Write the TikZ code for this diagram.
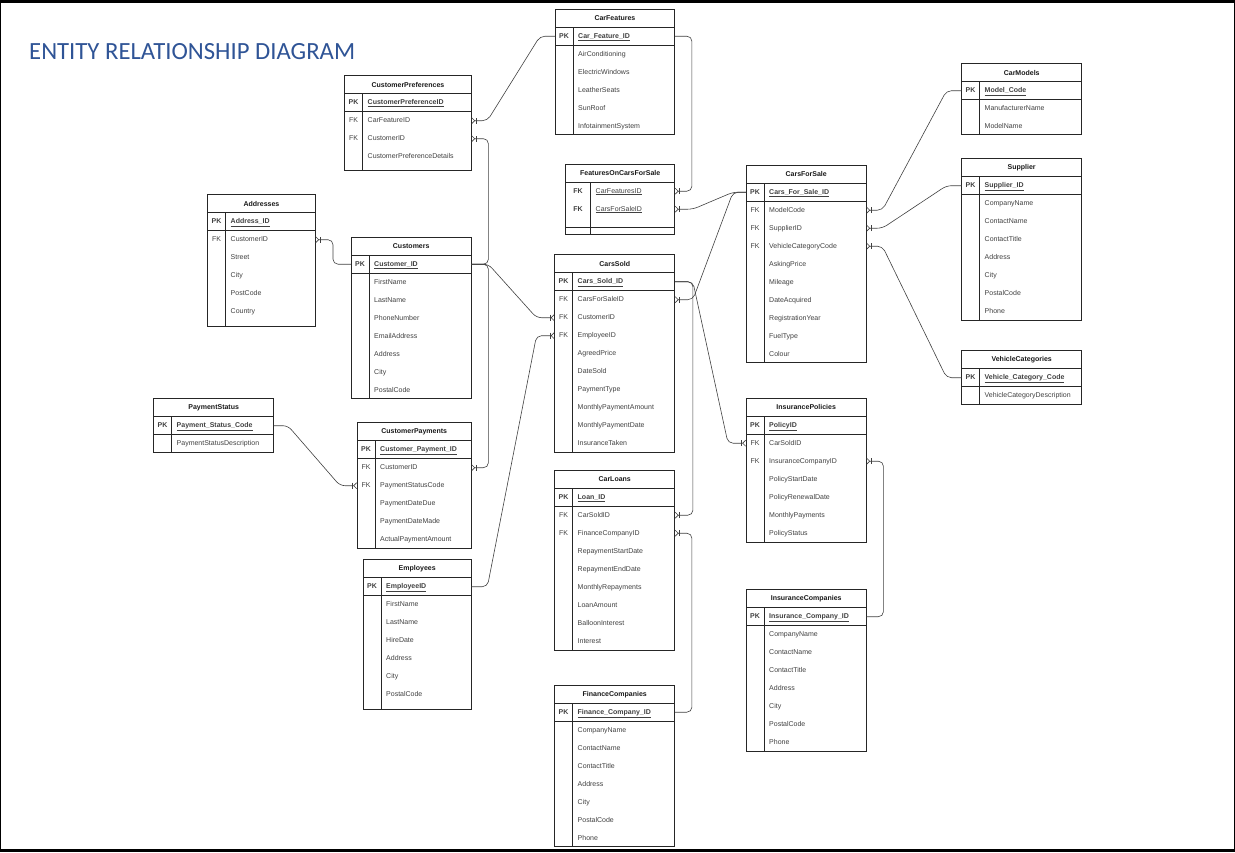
\documentclass[tikz,border=0pt]{standalone}
\usepackage{fontspec}
\setmainfont{Liberation Sans}
\newfontfamily\titlefont{Carlito}
\usetikzlibrary{arrows.meta}
\definecolor{titleblue}{RGB}{47,84,150}
\definecolor{fieldgray}{RGB}{64,64,64}
\newcommand{\erkeyw}{18}
\newcommand{\erkeys}{1}
\newcommand{\erpad}{0}
\newcommand{\PK}{\textbf{PK}}
\newcommand{\pkname}[1]{\textbf{\underline{#1}}}
\tikzset{
  erbox/.style={draw=black!85, line width=0.8pt},
  erhead/.style={anchor=north west, minimum height=18pt, inner sep=0pt,
                 font=\fontsize{7}{8}\selectfont\bfseries, text=black!90},
  errow/.style={anchor=north west, minimum height=18pt, inner sep=0pt},
  erkey/.style={anchor=center, xshift=\erkeyw/2, inner sep=0pt,
                text height=5.2pt, text depth=1.6pt,
                font=\fontsize{7}{8}\selectfont, text=fieldgray},
  erfield/.style={anchor=west, xshift=\erkeyw+5, inner sep=0pt,
                  text height=5.2pt, text depth=1.6pt,
                  font=\fontsize{7}{8}\selectfont, text=fieldgray},
  rel/.style={draw=black!75, line width=0.6pt, rounded corners=5pt,
              -{Bar[width=6pt, line width=0.6pt, sep=0.5pt] Straight Barb[reversed, length=3pt, width=6pt, line width=0.6pt]}},
}
% one table: name, x, y (top), width, height, title, key/field rows
\newcommand{\ertable}[7]{%
  \node[erhead, minimum width=#4] (#1) at (#2,#3) {#6};
  \foreach \k/\f [count=\i] in {#7}
    \node[errow, minimum width=#4, label={[erkey]west:\k}, label={[erfield]west:\f}]
      (#1-\i) at (#2,{#3+18*\i+(\i>\erkeys)*\erpad}) {};
  \draw[erbox] (#2,#3) rectangle ++(#4,#5);
  \draw[erbox] (#2,#3+18) -- ++(#4,0);
  \draw[erbox] (#2,{#3+18+18*\erkeys+\erpad}) -- ++(#4,0);
  \draw[erbox] (#2+\erkeyw,#3+18) -- (#2+\erkeyw,#3+#5);
}

\begin{document}
\begin{tikzpicture}[x=1pt, y=-1pt]
\useasboundingbox (0,0) rectangle (1235,852);

% --- frame and title ---
\fill[black] (0,0) rectangle (1235,3);
\fill[black] (0,849) rectangle (1235,852);
\fill[black] (0,0) rectangle (1.2,852);
\fill[black] (1233.5,0) rectangle (1235,852);
\node[anchor=west, inner sep=0pt, text=titleblue, font=\titlefont\fontsize{24.7}{30}\selectfont]
  (title) at (29,52) {ENTITY RELATIONSHIP DIAGRAM};

% --- left column ---
\ertable{custpref}{344.5}{75.5}{126.5}{95}{CustomerPreferences}
  {\PK/\pkname{CustomerPreferenceID}, FK/CarFeatureID, FK/CustomerID, /CustomerPreferenceDetails}
\ertable{addr}{207.5}{194.5}{107.5}{131.5}{Addresses}
  {\PK/\pkname{Address\_ID}, FK/CustomerID, /Street, /City, /PostCode, /Country}
\ertable{cust}{351}{237}{120}{161.5}{Customers}
  {\PK/\pkname{Customer\_ID}, /FirstName, /LastName, /PhoneNumber, /EmailAddress, /Address, /City, /PostalCode}
\ertable{paystat}{153.5}{398.5}{120}{53.5}{PaymentStatus}
  {\PK/\pkname{Payment\_Status\_Code}, /PaymentStatusDescription}
\ertable{custpay}{357}{422.5}{114}{125.5}{CustomerPayments}
  {\PK/\pkname{Customer\_Payment\_ID}, FK/CustomerID, FK/PaymentStatusCode, /PaymentDateDue, /PaymentDateMade, /ActualPaymentAmount}
\ertable{emp}{363}{559.5}{108}{150}{Employees}
  {\PK/\pkname{EmployeeID}, /FirstName, /LastName, /HireDate, /Address, /City, /PostalCode}

% --- middle column ---
\ertable{carfeat}{555}{9}{119.5}{125.5}{CarFeatures}
  {\PK/\pkname{Car\_Feature\_ID}, /AirConditioning, /ElectricWindows, /LeatherSeats, /SunRoof, /InfotainmentSystem}
{\renewcommand{\erkeyw}{25}\renewcommand{\erkeys}{2}\renewcommand{\erpad}{9.5}
\ertable{focfs}{565.5}{164}{109}{70}{FeaturesOnCarsForSale}
  {\textbf{FK}/\underline{CarFeaturesID}, \textbf{FK}/\underline{CarsForSaleID}}}
\ertable{carssold}{554.5}{254.5}{120}{198}{CarsSold}
  {\PK/\pkname{Cars\_Sold\_ID}, FK/CarsForSaleID, FK/CustomerID, FK/EmployeeID, /AgreedPrice, /DateSold, /PaymentType, /MonthlyPaymentAmount, /MonthlyPaymentDate, /InsuranceTaken}
\ertable{carloan}{554.5}{470}{120}{180}{CarLoans}
  {\PK/\pkname{Loan\_ID}, FK/CarSoldID, FK/FinanceCompanyID, /RepaymentStartDate, /RepaymentEndDate, /MonthlyRepayments, /LoanAmount, /BalloonInterest, /Interest}
\ertable{fincomp}{554.5}{685}{120}{161.5}{FinanceCompanies}
  {\PK/\pkname{Finance\_Company\_ID}, /CompanyName, /ContactName, /ContactTitle, /Address, /City, /PostalCode, /Phone}

% --- right columns ---
\ertable{cfs}{746}{165}{120}{197.5}{CarsForSale}
  {\PK/\pkname{Cars\_For\_Sale\_ID}, FK/ModelCode, FK/SupplierID, FK/VehicleCategoryCode, /AskingPrice, /Mileage, /DateAcquired, /RegistrationYear, /FuelType, /Colour}
\ertable{inspol}{746}{398}{120}{144}{InsurancePolicies}
  {\PK/\pkname{PolicyID}, FK/CarSoldID, FK/InsuranceCompanyID, /PolicyStartDate, /PolicyRenewalDate, /MonthlyPayments, /PolicyStatus}
\ertable{inscomp}{746}{589.5}{120}{162}{InsuranceCompanies}
  {\PK/\pkname{Insurance\_Company\_ID}, /CompanyName, /ContactName, /ContactTitle, /Address, /City, /PostalCode, /Phone}
\ertable{carmod}{961.5}{63.5}{120}{71}{CarModels}
  {\PK/\pkname{Model\_Code}, /ManufacturerName, /ModelName}
\ertable{supp}{961.5}{158.5}{120}{161.5}{Supplier}
  {\PK/\pkname{Supplier\_ID}, /CompanyName, /ContactName, /ContactTitle, /Address, /City, /PostalCode, /Phone}
\ertable{vcat}{961.5}{350.5}{120}{53.5}{VehicleCategories}
  {\PK/\pkname{Vehicle\_Category\_Code}, /VehicleCategoryDescription}

% --- relationships (PK side to FK side) ---
\draw[rel] (carfeat-1.west) -- ++(-15,0) -- ([xshift=16pt]custpref-2.east) -- (custpref-2.east);
\draw[rel] (carfeat-1.east) -- ++(17,0) |- (focfs-1.east);
\draw[rel] (cust-1.east) -- ++(17,0) |- (custpref-3.east);
\draw[rel] (cust-1.east) -- ++(17,0) |- (custpay-2.east);
\draw[rel] (cust-1.east) -- ++(17,0) -- ([xshift=-18pt]carssold-3.west) -- (carssold-3.west);
\draw[rel] (cust-1.west) -- ++(-18,0) |- (addr-2.east);
\draw[rel] (paystat-1.east) -- ++(14,0) -- ([xshift=-17pt]custpay-3.west) -- (custpay-3.west);
\draw[rel] (emp-1.east) -- ++(16,0) -- ([xshift=-18pt]carssold-4.west) -- (carssold-4.west);
\draw[rel] (cfs-1.west) -- ++(-13,0) -- ([xshift=18pt]focfs-2.east) -- (focfs-2.east);
\draw[rel] (cfs-1.west) -- ++(-13,0) -- ([xshift=18pt]carssold-2.east) -- (carssold-2.east);
\draw[rel] (carmod-1.west) -- ++(-15,0) -- ([xshift=16pt]cfs-2.east) -- (cfs-2.east);
\draw[rel] (supp-1.west) -- ++(-15,0) -- ([xshift=16pt]cfs-3.east) -- (cfs-3.east);
\draw[rel] (vcat-1.west) -- ++(-15,0) -- ([xshift=16pt]cfs-4.east) -- (cfs-4.east);
\draw[rel] (carssold-1.east) -- ++(18,0) -- ([xshift=-18pt]inspol-2.west) -- (inspol-2.west);
\draw[rel] (carssold-1.east) -- ++(18,0) |- (carloan-2.east);
\draw[rel] (fincomp-1.east) -- ++(17,0) |- (carloan-3.east);
\draw[rel] (inscomp-1.east) -- ++(17,0) |- (inspol-3.east);

\end{tikzpicture}
\end{document}
